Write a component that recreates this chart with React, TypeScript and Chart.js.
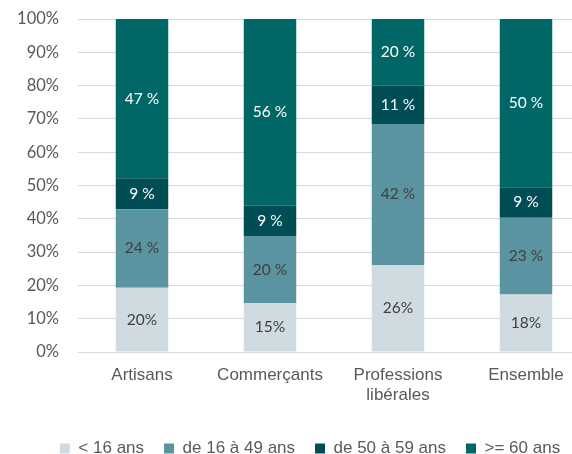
import React, { useEffect, useRef } from "react";
import { Chart, registerables } from "chart.js";

Chart.register(...registerables);

const categories: (string | string[])[] = ["Artisans", "Commerçants", ["Professions", "libérales"], "Ensemble"];
const seriesNames = ["< 16 ans", "de 16 à 49 ans", "de 50 à 59 ans", ">= 60 ans"];
const under16 = [19.3, 14.7, 26.1, 17.3];
const from16to49 = [23.6, 20.1, 42.4, 23.0];
const from50to59 = [9.3, 9.1, 11.5, 9.2];
const over60 = [47.8, 56.1, 20.0, 50.5];
const under16Labels = ["20%", "15%", "26%", "18%"];
const from16to49Labels = ["24 %", "20 %", "42 %", "23 %"];
const from50to59Labels = ["9 %", "9 %", "11 %", "9 %"];
const over60Labels = ["47 %", "56 %", "20 %", "50 %"];
const yTicks = [0, 10, 20, 30, 40, 50, 60, 70, 80, 90, 100];

const colors = ["#cfdbe0", "#5a94a1", "#004d55", "#006666"];
const labelColors = ["#404040", "#404040", "#ffffff", "#ffffff"];
const allLabels = [under16Labels, from16to49Labels, from50to59Labels, over60Labels];

const segLabels = {
  id: "segLabels",
  afterDatasetsDraw(chart: any) {
    const ctx = chart.ctx;
    chart.data.datasets.forEach((_ds: any, i: number) => {
      const meta = chart.getDatasetMeta(i);
      meta.data.forEach((bar: any, j: number) => {
        const { x, y, base } = bar.getProps(["x", "y", "base"], true);
        ctx.save();
        ctx.fillStyle = labelColors[i];
        ctx.font = "15.5px Lato";
        ctx.textAlign = "center";
        ctx.textBaseline = "middle";
        ctx.fillText(allLabels[i][j], x, (y + base) / 2);
        ctx.restore();
      });
    });
  },
};

export default function App() {
  const ref = useRef<HTMLCanvasElement>(null);
  useEffect(() => {
    if (!ref.current) return;
    const data = [under16, from16to49, from50to59, over60];
    const chart = new Chart(ref.current, {
      type: "bar",
      data: {
        labels: categories,
        datasets: seriesNames.map((name, i) => ({
          label: name,
          data: data[i],
          backgroundColor: colors[i],
          borderWidth: 0,
          categoryPercentage: 1,
          barPercentage: 0.41,
        })),
      },
      options: {
        responsive: false,
        animation: false,
        layout: { padding: { top: 19, right: 0, left: 0, bottom: 0 } },
        plugins: {
          tooltip: { enabled: false },
          legend: {
            position: "bottom",
            labels: {
              boxWidth: 10,
              boxHeight: 10,
              padding: 20,
              color: "#595959",
              font: { family: "Liberation Sans", size: 17 },
            },
          },
        },
        scales: {
          x: {
            stacked: true,
            grid: { display: false, drawTicks: false },
            border: { display: false },
            ticks: {
              color: "#595959",
              font: { family: "Liberation Sans", size: 17 },
              padding: 13,
              maxRotation: 0,
              autoSkip: false,
            },
            afterFit: (s: any) => {
              s.height = 68;
              s.paddingLeft = 0;
              s.paddingRight = 0;
            },
          },
          y: {
            stacked: true,
            min: 0,
            max: 100,
            afterBuildTicks: (s: any) => {
              s.ticks = yTicks.map((v) => ({ value: v }));
            },
            grid: { color: "#d9d9d9", lineWidth: 1, drawTicks: false },
            border: { display: false },
            ticks: {
              color: "#595959",
              font: { family: "Lato", size: 16.5 },
              padding: 19,
              callback: (v: any) => v + "%",
            },
            afterFit: (s: any) => {
              s.width = 78;
              s.paddingTop = 0;
              s.paddingBottom = 0;
            },
          },
          spacer: {
            type: "linear",
            position: "right",
            display: true,
            grid: { display: false, drawTicks: false },
            border: { display: false },
            ticks: { display: false },
            afterFit: (s: any) => {
              s.width = 30;
              s.paddingTop = 0;
              s.paddingBottom = 0;
            },
          },
        },
      },
      plugins: [segLabels],
    });
    return () => chart.destroy();
  }, []);
  return (
    <div style={{ position: "fixed", left: 0, top: 0, width: 572, height: 454, overflow: "hidden", background: "#fff" }}>
      <canvas ref={ref} width={620} height={467} style={{ display: "block", width: 620, height: 467 }} />
    </div>
  );
}
